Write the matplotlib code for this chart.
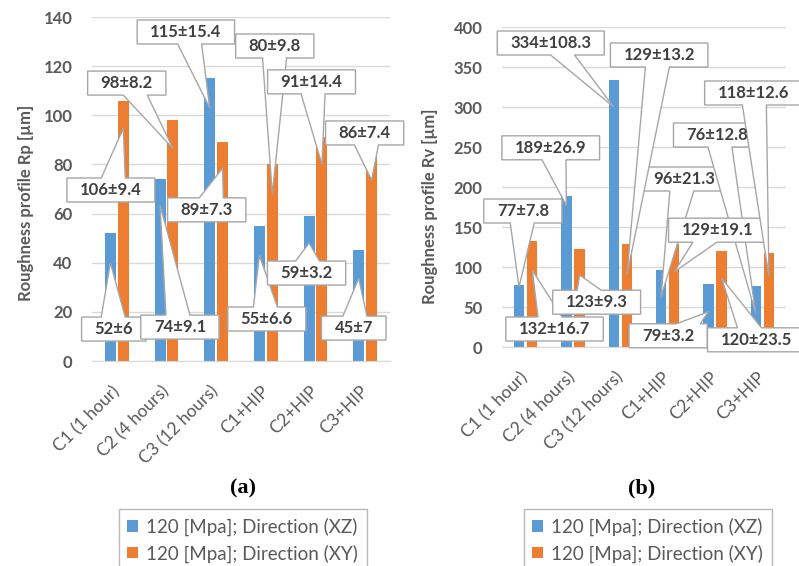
import matplotlib.pyplot as plt
from matplotlib.patches import Polygon

plt.rcParams["font.family"] = ["Lato", "DejaVu Sans"]

categories = ["C1 (1 hour)", "C2 (4 hours)", "C3 (12 hours)", "C1+HIP", "C2+HIP", "C3+HIP"]
series_names = ["120 [Mpa]; Direction (XZ)", "120 [Mpa]; Direction (XY)"]

# (a) Rp
rp_xz = [52, 74, 115, 55, 59, 45]
rp_xy = [106, 98, 89, 80, 91, 86]
rp_xz_labels = ["52±6", "74±9.1", "115±15.4", "55±6.6", "59±3.2", "45±7"]
rp_xy_labels = ["106±9.4", "98±8.2", "89±7.3", "80±9.8", "91±14.4", "86±7.4"]

# (b) Rv
rv_xz = [77, 189, 334, 96, 79, 76]
rv_xy = [132, 123, 129, 129, 120, 118]
rv_xz_labels = ["77±7.8", "189±26.9", "334±108.3", "96±21.3", "79±3.2", "76±12.8"]
rv_xy_labels = ["132±16.7", "123±9.3", "129±13.2", "129±19.1", "120±23.5", "118±12.6"]

# callout layout: box centre (x, y) and height where the pointer meets the bar
rp_xz_box = [(-0.06, 13.0), (1.27, 13.8), (1.39, 133.9), (3.02, 17.1), (3.82, 35.8), (4.77, 13.4)]
rp_xy_box = [(-0.12, 69.6), (0.20, 113.1), (1.81, 61.5), (3.18, 128.2), (3.92, 113.6), (4.99, 92.8)]
rp_xz_tip = [40, 63.4, 103, 43, 48, 33.7]
rp_xy_tip = [94.7, 86.5, 78.5, 68, 80, 73.6]

rv_xz_box = [(-0.06, 170), (0.53, 249), (0.53, 380), (3.35, 210), (3.01, 14), (4.05, 265)]
rv_xy_box = [(0.61, 22.5), (1.50, 56), (2.82, 365), (4.05, 146), (4.87, 9), (4.81, 317.5)]
rv_xz_tip = [75, 177, 300, 63, 44, 42]
rv_xy_tip = [96, 90, 90, 94, 86, 88]

BLUE = "#5B9BD5"
ORANGE = "#ED7D31"
GRAY = "#595959"
BOXEDGE = "#a6a6a6"

callouts = []  # (ax, text, tip in data coords)


def add_callouts(ax, labels, boxes, tips, xoff):
    for i, (txt, (bx, by), ty) in enumerate(zip(labels, boxes, tips)):
        t = ax.text(bx, by, txt, ha="center", va="center", fontsize=12,
                    fontweight="bold", color="#404040", zorder=7, clip_on=False)
        callouts.append((ax, t, (i + xoff, ty)))


def callout_shape(bb, tip, padx=13, pady=4, half_base=12):
    # rectangle around the text with a wedge pointing at the tip (pixels)
    x0, y0 = bb.x0 - padx, bb.y0 - pady
    x1, y1 = bb.x1 + padx, bb.y1 + pady
    cx, cy = (x0 + x1) / 2, (y0 + y1) / 2
    tx, ty = tip
    dx, dy = tx - cx, ty - cy
    hw, hh = (x1 - x0) / 2, (y1 - y0) / 2
    if abs(dx) <= hw and abs(dy) <= hh:
        return [(x0, y0), (x1, y0), (x1, y1), (x0, y1)]
    sx = hw / abs(dx) if dx else float("inf")
    sy = hh / abs(dy) if dy else float("inf")
    s = min(sx, sy)
    px, py = cx + s * dx, cy + s * dy
    if sy <= sx:
        hb = min(half_base, hw - 2)
        px = min(max(px, x0 + hb + 2), x1 - hb - 2)
        if dy < 0:
            return [(x0, y0), (px - hb, y0), (tx, ty), (px + hb, y0), (x1, y0), (x1, y1), (x0, y1)]
        return [(x0, y0), (x1, y0), (x1, y1), (px + hb, y1), (tx, ty), (px - hb, y1), (x0, y1)]
    hb = min(half_base, hh - 2)
    py = min(max(py, y0 + hb + 2), y1 - hb - 2)
    if dx > 0:
        return [(x0, y0), (x1, y0), (x1, py - hb), (tx, ty), (x1, py + hb), (x1, y1), (x0, y1)]
    return [(x0, y0), (x1, y0), (x1, y1), (x0, y1), (x0, py + hb), (tx, ty), (x0, py - hb)]


def draw_panel(ax, xz, xy, xz_lab, xy_lab, xz_box, xy_box, xz_tip, xy_tip,
               ymax, step, ylabel, off, label_xy):
    x = list(range(len(categories)))
    w = 0.22
    b1 = ax.bar([i - off for i in x], xz, width=w, color=BLUE, zorder=2)
    b2 = ax.bar([i + off for i in x], xy, width=w, color=ORANGE, zorder=2)
    ax.set_xlim(-0.5, len(categories) - 0.5)
    ax.set_ylim(0, ymax)
    ax.set_yticks(range(0, ymax + 1, step))
    ax.yaxis.grid(True, color="#d9d9d9", lw=1)
    ax.set_axisbelow(True)
    for s in ["left", "right", "top"]:
        ax.spines[s].set_visible(False)
    ax.spines["bottom"].set_color("#d9d9d9")
    ax.tick_params(axis="y", length=0, pad=14, labelsize=12, labelcolor=GRAY)
    for t in ax.get_yticklabels():
        t.set_fontweight("bold")
    ax.set_xticks(x)
    ax.set_xticklabels(categories, rotation=45, ha="right", va="center",
                       rotation_mode="anchor", fontsize=12.5, color=GRAY)
    ax.tick_params(axis="x", length=0, pad=20)
    ax.set_ylabel(ylabel, fontsize=12, fontweight="bold", color=GRAY)
    ax.yaxis.set_label_coords(*label_xy)
    add_callouts(ax, xz_lab, xz_box, xz_tip, -off)
    add_callouts(ax, xy_lab, xy_box, xy_tip, off)
    return b1, b2


fig = plt.figure(figsize=(7.99, 5.66), dpi=100)
W, H = 799, 566
ax1 = fig.add_axes([92 / W, 1 - 361 / H, 298 / W, 344 / H])
ax2 = fig.add_axes([502 / W, 1 - 347 / H, 284 / W, 320 / H])

h1 = draw_panel(ax1, rp_xz, rp_xy, rp_xz_labels, rp_xy_labels, rp_xz_box, rp_xy_box,
                rp_xz_tip, rp_xy_tip, 140, 20, "Roughness profile Rp [µm]", 0.13,
                (-0.195, 0.46))
h2 = draw_panel(ax2, rv_xz, rv_xy, rv_xz_labels, rv_xy_labels, rv_xz_box, rv_xy_box,
                rv_xz_tip, rv_xy_tip, 400, 50, "Roughness profile Rv [µm]", 0.14,
                (-0.225, 0.44))

for handles, lx, px, tag in [(h1, 119, 243, "(a)"), (h2, 524, 642, "(b)")]:
    fig.text(px / W, 1 - 488 / H, tag, ha="center", va="center",
             fontsize=16, fontweight="bold", family="Liberation Serif")
    leg = fig.legend(handles, series_names, loc="upper left",
                     bbox_to_anchor=(lx / W, 1 - 509 / H), bbox_transform=fig.transFigure,
                     fancybox=False, edgecolor=BOXEDGE, fontsize=13.5, labelcolor=GRAY,
                     handlelength=0.55, handleheight=0.55, handletextpad=0.45,
                     borderpad=0.45, labelspacing=0.45, borderaxespad=0)
    leg.get_frame().set_linewidth(1)

# build the callout outlines once text sizes are known
fig.canvas.draw()
renderer = fig.canvas.get_renderer()
inv = fig.transFigure.inverted()
for ax, t, tip in callouts:
    bb = t.get_window_extent(renderer)
    tip_px = ax.transData.transform(tip)
    verts = inv.transform(callout_shape(bb, tip_px))
    poly = Polygon(verts, closed=True, transform=fig.transFigure, fc="white",
                   ec=BOXEDGE, lw=1, zorder=6, clip_on=False)
    ax.add_patch(poly)
ax1.set_xlim(-0.5, 5.5)
ax1.set_ylim(0, 140)
ax2.set_xlim(-0.5, 5.5)
ax2.set_ylim(0, 400)

fig.savefig("out.png", dpi=100)
